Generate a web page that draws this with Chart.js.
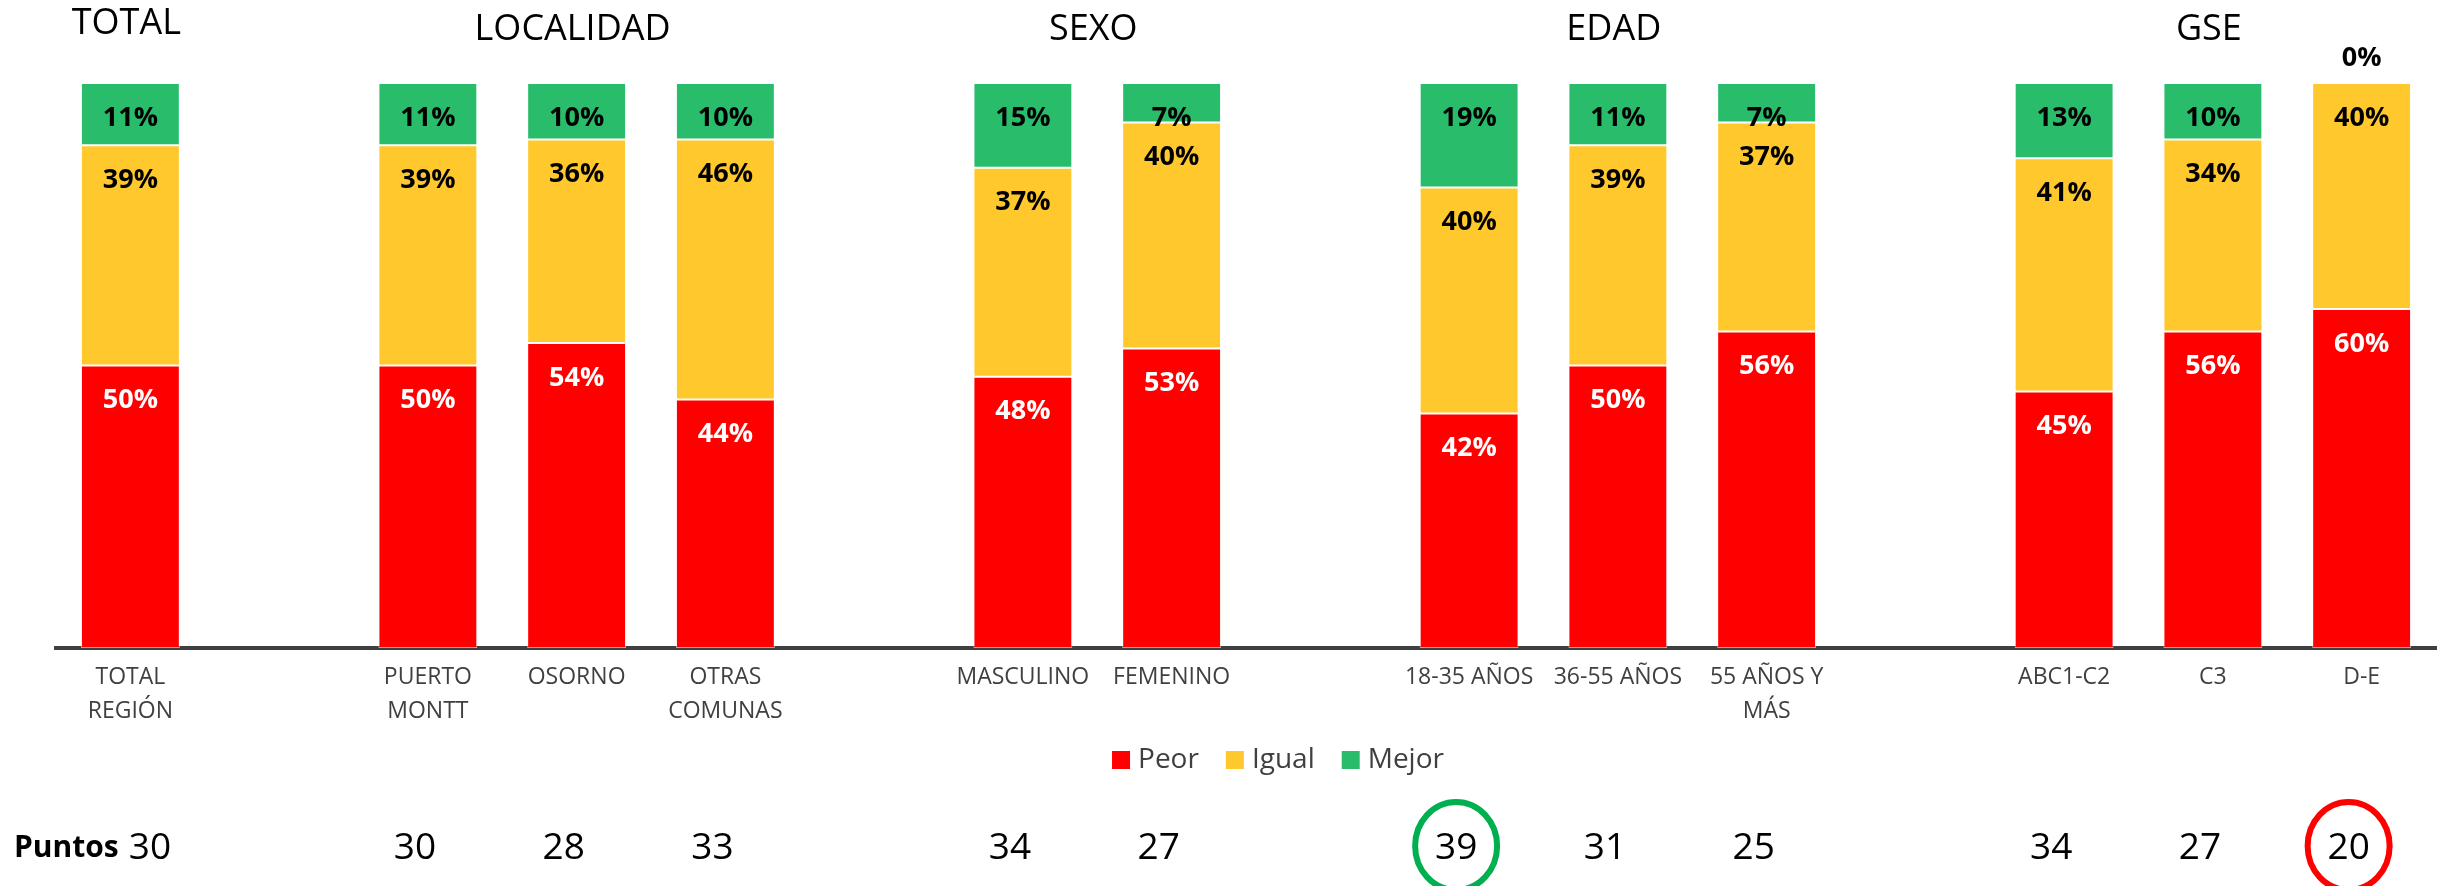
<!DOCTYPE html>
<html lang="es">
<head>
<meta charset="utf-8">
<title>Peor / Igual / Mejor</title>
<script src="https://cdn.jsdelivr.net/npm/chart.js@4.4.1/dist/chart.umd.min.js"></script>
<style>
  html, body { margin: 0; padding: 0; background: #fff; }
</style>
</head>
<body>
<canvas id="chart" width="2441" height="886"></canvas>
<script>
const categories = [
  ['TOTAL', 'REGIÓN'], '', ['PUERTO', 'MONTT'], 'OSORNO', ['OTRAS', 'COMUNAS'], '',
  'MASCULINO', 'FEMENINO', '', '18-35 AÑOS', '36-55 AÑOS', ['55 AÑOS Y', 'MÁS'], '',
  'ABC1-C2', 'C3', 'D-E'
];
const peor  = [50, null, 50, 54, 44, null, 48, 53, null, 41.5, 50, 56, null, 45.4, 56, 60];
const igual = [39, null, 39, 36, 46, null, 37, 40, null, 40, 39, 37, null, 41.3, 34, 40];
const mejor = [11, null, 11, 10, 10, null, 15, 7, null, 18.5, 11, 7, null, 13.3, 10, 0];
const puntos = [30, null, 30, 28, 33, null, 34, 27, null, 39, 31, 25, null, 34, 27, 20];

const groupNames = ['TOTAL', 'LOCALIDAD', 'SEXO', 'EDAD', 'GSE'];
const groupFirst = [0, 2, 6, 9, 13];
const groupLast  = [0, 4, 7, 11, 15];

const circledCats = [9, 15];
const circleColors = ['#00b050', '#ff0000'];

const colors = { peor: '#ff0000', igual: '#ffc82c', mejor: '#29bd6b', text: '#404040' };
const FONT = "'Open Sans', sans-serif";

// labels, headings, legend and the "Puntos" row
const overlay = {
  id: 'overlay',
  afterDatasetsDraw(chart) {
    const ctx = chart.ctx;
    const x = chart.scales.x;
    ctx.save();
    ctx.textAlign = 'center';
    ctx.textBaseline = 'middle';

    // value labels, near the top of each segment
    ctx.font = `bold 27px ${FONT}`;
    chart.data.datasets.forEach((ds, di) => {
      chart.getDatasetMeta(di).data.forEach((bar, i) => {
        const v = ds.data[i];
        if (v == null) return;
        ctx.fillStyle = di === 0 ? '#ffffff' : '#000000';
        const y = v > 0 ? bar.y + 35 : bar.y - 25;
        ctx.fillText(Math.round(v) + '%', bar.x, y);
      });
    });

    // group headings
    ctx.fillStyle = '#000000';
    ctx.font = `36px ${FONT}`;
    groupNames.forEach((name, g) => {
      const cx = (x.getPixelForValue(groupFirst[g]) + x.getPixelForValue(groupLast[g])) / 2;
      ctx.fillText(name, cx - 4, g === 0 ? 24 : 30);
    });

    // legend
    ctx.font = `28px ${FONT}`;
    ctx.textAlign = 'left';
    const box = 18, gap = 8, space = 27;
    const items = chart.data.datasets.map(d => ({ label: d.label, color: d.backgroundColor }));
    const widths = items.map(it => box + gap + ctx.measureText(it.label).width);
    const total = widths.reduce((a, b) => a + b, 0) + space * (items.length - 1);
    let lx = 1278 - total / 2;
    const ly = 760;
    items.forEach((it, k) => {
      ctx.fillStyle = it.color;
      ctx.fillRect(lx, ly - box / 2, box, box);
      ctx.fillStyle = colors.text;
      ctx.fillText(it.label, lx + box + gap, ly);
      lx += widths[k] + space;
    });

    // points row
    const py = 848;
    ctx.fillStyle = '#000000';
    ctx.font = `bold 30px ${FONT}`;
    ctx.fillText('Puntos', 14, py);
    const afterLabel = 14 + ctx.measureText('Puntos').width + 10;
    ctx.font = `37px ${FONT}`;
    puntos.forEach((p, i) => {
      if (p == null) return;
      if (i === 0) {
        ctx.textAlign = 'left';
        ctx.fillText(String(p), afterLabel, py);
        return;
      }
      ctx.textAlign = 'center';
      ctx.fillText(String(p), x.getPixelForValue(i) - 13, py);
    });

    // highlighted points
    ctx.lineWidth = 6;
    circledCats.forEach((c, k) => {
      ctx.strokeStyle = circleColors[k];
      ctx.beginPath();
      ctx.ellipse(x.getPixelForValue(c) - 13, py - 2, 41, 44, 0, 0, Math.PI * 2);
      ctx.stroke();
    });
    ctx.restore();
  }
};

const barStyle = { borderColor: 'rgba(255,255,255,0.55)', borderWidth: 1, borderSkipped: false };

new Chart(document.getElementById('chart'), {
  type: 'bar',
  data: {
    labels: categories,
    datasets: [
      { label: 'Peor', data: peor, backgroundColor: colors.peor, ...barStyle },
      { label: 'Igual', data: igual, backgroundColor: colors.igual, ...barStyle },
      { label: 'Mejor', data: mejor, backgroundColor: colors.mejor, ...barStyle }
    ]
  },
  options: {
    responsive: false,
    animation: false,
    barPercentage: 0.665,
    categoryPercentage: 1,
    layout: { padding: { left: 56, right: 5, top: 83, bottom: 0 } },
    plugins: { legend: { display: false }, tooltip: { enabled: false } },
    scales: {
      x: {
        stacked: true,
        grid: { display: false, drawTicks: false },
        border: { display: true, color: colors.text, width: 4 },
        ticks: {
          autoSkip: false,
          maxRotation: 0,
          padding: 12,
          color: colors.text,
          font: { family: FONT, size: 23, lineHeight: 1.48 }
        },
        afterFit: s => { s.height = 238; }
      },
      y: { stacked: true, display: false, min: 0, max: 100 }
    }
  },
  plugins: [overlay]
});
</script>
</body>
</html>
